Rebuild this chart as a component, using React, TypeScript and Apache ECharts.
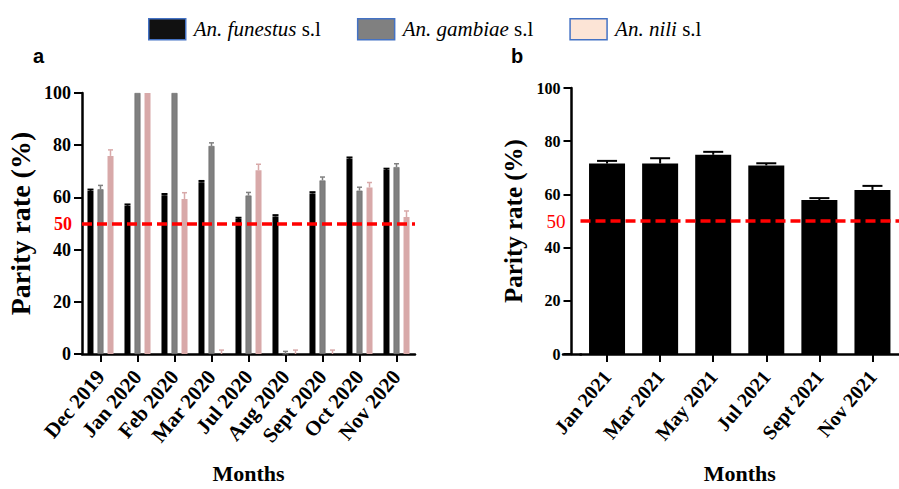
import React, { useEffect, useRef } from "react";
import * as echarts from "echarts";

const categoriesA = ["Dec 2019", "Jan 2020", "Feb 2020", "Mar 2020", "Jul 2020", "Aug 2020", "Sept 2020", "Oct 2020", "Nov 2020"];
const funestusA = [62.5, 56.8, 60.8, 65.8, 51.7, 52.7, 61.5, 74.8, 70.5];
const funestusErrA = [0.5, 0.5, 0.5, 0.5, 0.5, 0.5, 0.5, 0.5, 0.5];
const gambiaeA = [63.1, 100, 100, 79.7, 60.7, 0, 66.5, 62.6, 71.6];
const gambiaeErrA = [1.5, 0, 0, 1.2, 1.2, 1.0, 1.3, 1.3, 1.3];
const niliA = [75.9, 100, 59.4, 0, 70.4, 0, 0, 63.8, 52.5];
const niliErrA = [2.3, 0, 2.4, 1.5, 2.3, 1.5, 1.5, 1.9, 2.3];

const categoriesB = ["Jan 2021", "Mar 2021", "May 2021", "Jul 2021", "Sept 2021", "Nov 2021"];
const funestusB = [71.6, 71.6, 74.9, 70.9, 57.9, 61.7];
const funestusErrB = [1.0, 2.0, 1.1, 0.8, 0.7, 1.5];

const yTicks = [0, 20, 40, 60, 80, 100];
const threshold = 50;

const speciesNames = ["An. funestus s.l", "An. gambiae s.l", "An. nili s.l"];

const SERIF = "'Liberation Serif', 'Times New Roman', serif";

function errRender(offsetPx: number, capW: number, color: string, lw: number) {
  return (params: any, api: any) => {
    const c = api.value(0);
    const v = api.value(1);
    const e = api.value(2);
    if (!e) return null;
    const base = api.coord([c, v]);
    const top = api.coord([c, v + e]);
    const x = base[0] + offsetPx;
    return {
      type: "group",
      children: [
        { type: "line", shape: { x1: x, y1: base[1], x2: x, y2: top[1] }, style: { stroke: color, lineWidth: lw } },
        { type: "line", shape: { x1: x - capW / 2, y1: top[1], x2: x + capW / 2, y2: top[1] }, style: { stroke: color, lineWidth: lw } },
      ],
    };
  };
}

const toTriples = (vals: number[], errs: number[]) => vals.map((v, i) => [i, v, errs[i]]);

export default function App() {
  const ref = useRef<HTMLDivElement>(null);
  useEffect(() => {
    if (!ref.current) return;
    const chart = echarts.init(ref.current, null, { renderer: "svg" });
    const colors = ["#000000", "#808080", "#d8a9a9"];
    const legendColors = ["#111111", "#808080", "#fce4d6"];

    const yAxisBase = (gridIndex: number, labelSize: number, nameSize: number, nameGap: number, offset: number) => ({
      gridIndex,
      type: "value",
      min: yTicks[0],
      max: yTicks[yTicks.length - 1],
      interval: 20,
      offset,
      axisLine: { show: true, lineStyle: { color: "#000", width: 2.5 } },
      axisTick: { show: true, length: 8, lineStyle: { color: "#000", width: 2 } },
      axisLabel: { color: "#000", fontFamily: SERIF, fontWeight: "bold", fontSize: labelSize, margin: 11 },
      splitLine: { show: false },
      name: "Parity rate (%)",
      nameLocation: "middle",
      nameGap,
      nameTextStyle: { color: "#000", fontFamily: SERIF, fontWeight: "bold", fontSize: nameSize },
    });

    const xAxisBase = (gridIndex: number, data: string[], labelSize: number) => ({
      gridIndex,
      type: "category",
      data,
      axisLine: { show: true, lineStyle: { color: "#000", width: 2.5 } },
      axisTick: { show: true, alignWithLabel: true, length: 8, lineStyle: { color: "#000", width: 2 } },
      axisLabel: { interval: 0, rotate: 50, color: "#000", fontFamily: SERIF, fontWeight: "bold", fontSize: labelSize, margin: 19 },
      name: "Months",
      nameLocation: "middle",
      nameGap: 108,
      nameTextStyle: { color: "#000", fontFamily: SERIF, fontWeight: "bold", fontSize: 22 },
    });

    const markLine = (labelWeight: string, labelSize: number, distance: number) => ({
      silent: true,
      symbol: "none",
      data: [{ yAxis: threshold }],
      lineStyle: { color: "#ff0000", type: [10, 5], width: 3.5 },
      label: {
        show: true,
        position: "start",
        formatter: String(threshold),
        color: "#ff0000",
        fontFamily: SERIF,
        fontWeight: labelWeight,
        fontSize: labelSize,
        distance,
      },
    });

    const barW = 6;
    const gapPx = 4;

    const option: any = {
      animation: false,
      backgroundColor: "#ffffff",
      legend: {
        left: 143,
        top: 13,
        itemWidth: 37,
        itemHeight: 21,
        itemGap: 36,
        icon: "rect",
        selectedMode: false,
        data: speciesNames.map((n, i) => ({
          name: n,
          itemStyle: { color: legendColors[i], borderColor: "#4472c4", borderWidth: 1.5 },
        })),
        formatter: (n: string) => {
          const italic = n.replace(" s.l", "");
          return `{i|${italic}}{n| s.l}`;
        },
        textStyle: {
          padding: [0, 0, 0, 3],
          rich: {
            i: { fontFamily: SERIF, fontStyle: "italic", fontSize: 21, color: "#000" },
            n: { fontFamily: SERIF, fontSize: 21, color: "#000" },
          },
        },
      },
      graphic: [
        { type: "text", left: 33, top: 46, style: { text: "a", fontFamily: "'Liberation Sans', Arial, sans-serif", fontWeight: "bold", fontSize: 20, fill: "#000" } },
        { type: "text", left: 511, top: 46, style: { text: "b", fontFamily: "'Liberation Sans', Arial, sans-serif", fontWeight: "bold", fontSize: 20, fill: "#000" } },
      ],
      grid: [
        { left: 82, width: 333, top: 93, bottom: 135 },
        { left: 580.5, width: 321, top: 88, bottom: 135 },
        { left: 563, width: 18, top: 88, bottom: 135 },
      ],
      xAxis: [
        xAxisBase(0, categoriesA, 21),
        xAxisBase(1, categoriesB, 20),
        {
          gridIndex: 2,
          type: "value",
          min: 0,
          max: 1,
          axisLine: { show: true, onZero: false, lineStyle: { color: "#000", width: 2.5 } },
          axisTick: { show: false },
          axisLabel: { show: false },
          splitLine: { show: false },
        },
      ],
      yAxis: [
        yAxisBase(0, 18, 28, 48, 0),
        yAxisBase(1, 16, 25, 46, 9),
        { gridIndex: 2, type: "value", show: false, min: 0, max: 1 },
      ],
      series: [
        {
          name: speciesNames[0],
          type: "bar",
          xAxisIndex: 0,
          yAxisIndex: 0,
          data: funestusA,
          barWidth: barW,
          barGap: "67%",
          itemStyle: { color: colors[0] },
          markLine: markLine("bold", 18, 10),
        },
        {
          name: speciesNames[1],
          type: "bar",
          xAxisIndex: 0,
          yAxisIndex: 0,
          data: gambiaeA,
          barWidth: barW,
          barGap: "67%",
          itemStyle: { color: colors[1], borderColor: "#6a6a6a", borderWidth: 0.6 },
        },
        {
          name: speciesNames[2],
          type: "bar",
          xAxisIndex: 0,
          yAxisIndex: 0,
          data: niliA,
          barWidth: barW,
          barGap: "67%",
          itemStyle: { color: colors[2] },
        },
        {
          name: "errFunA",
          type: "custom",
          xAxisIndex: 0,
          yAxisIndex: 0,
          data: toTriples(funestusA, funestusErrA),
          encode: { x: 0, y: 1 },
          renderItem: errRender(-(barW + gapPx), 6, colors[0], 2),
          z: 3,
        },
        {
          name: "errGamA",
          type: "custom",
          xAxisIndex: 0,
          yAxisIndex: 0,
          data: toTriples(gambiaeA, gambiaeErrA),
          encode: { x: 0, y: 1 },
          renderItem: errRender(0, 5, colors[1], 1.5),
          z: 3,
        },
        {
          name: "errNilA",
          type: "custom",
          xAxisIndex: 0,
          yAxisIndex: 0,
          data: toTriples(niliA, niliErrA),
          encode: { x: 0, y: 1 },
          renderItem: errRender(barW + gapPx, 5, colors[2], 1.5),
          z: 3,
        },
        {
          name: "funestusB",
          type: "bar",
          xAxisIndex: 1,
          yAxisIndex: 1,
          data: funestusB,
          barWidth: 36,
          itemStyle: { color: "#000" },
          markLine: markLine("normal", 19, 15),
        },
        {
          name: "errFunB",
          type: "custom",
          xAxisIndex: 1,
          yAxisIndex: 1,
          data: toTriples(funestusB, funestusErrB),
          encode: { x: 0, y: 1 },
          renderItem: errRender(0, 20, "#000", 2),
          z: 3,
        },
      ],
    };
    chart.setOption(option);
    return () => chart.dispose();
  }, []);
  return <div ref={ref} style={{ position: "absolute", left: 0, top: 0, width: 899, height: 489 }} />;
}
